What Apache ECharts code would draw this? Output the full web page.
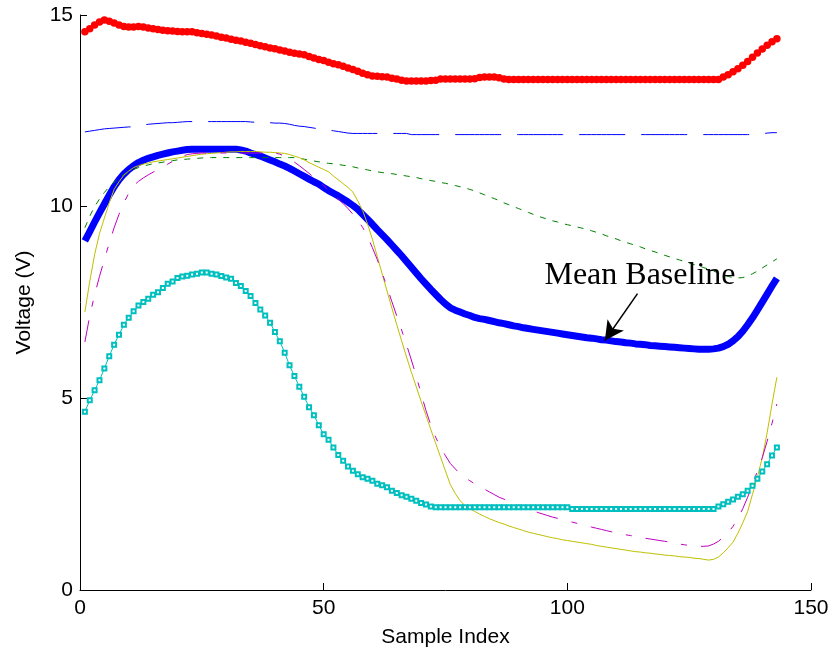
<!DOCTYPE html>
<html>
<head>
<meta charset="utf-8">
<script src="https://cdn.jsdelivr.net/npm/echarts@6/dist/echarts.min.js"></script>
<style>
html,body{margin:0;padding:0;background:#fff;}
#chart{width:832px;height:653px;}
</style>
</head>
<body>
<div id="chart"></div>
<script>
// Sample index runs 1..N for every series
const xTicks = [0, 50, 100, 150];
const yTicks = [0, 5, 10, 15];

const redValues = [
14.56,14.64,14.74,14.82,14.87,14.84,14.79,14.74,14.70,14.69,
14.69,14.70,14.69,14.66,14.64,14.62,14.60,14.59,14.58,14.57,
14.56,14.56,14.56,14.54,14.52,14.50,14.48,14.45,14.42,14.40,
14.37,14.34,14.32,14.29,14.26,14.23,14.20,14.17,14.14,14.12,
14.09,14.06,14.03,14.00,13.98,13.96,13.92,13.88,13.84,13.81,
13.77,13.73,13.70,13.66,13.62,13.58,13.53,13.48,13.44,13.41,
13.40,13.39,13.38,13.35,13.33,13.30,13.28,13.28,13.28,13.28,
13.28,13.29,13.30,13.33,13.33,13.33,13.33,13.33,13.33,13.33,
13.34,13.37,13.38,13.38,13.38,13.36,13.33,13.32,13.32,13.32,
13.32,13.32,13.32,13.32,13.32,13.32,13.32,13.32,13.32,13.32,
13.32,13.32,13.32,13.32,13.32,13.32,13.32,13.32,13.32,13.32,
13.32,13.32,13.32,13.32,13.32,13.32,13.32,13.32,13.32,13.32,
13.32,13.32,13.32,13.32,13.32,13.32,13.32,13.32,13.32,13.32,
13.32,13.38,13.44,13.52,13.60,13.69,13.79,13.90,14.01,14.11,
14.21,14.30,14.38];

const blueDashedValues = [
11.95,11.97,11.99,12.01,12.03,12.04,12.05,12.06,12.07,12.08,
12.08,12.10,12.13,12.15,12.16,12.17,12.18,12.19,12.19,12.20,
12.21,12.22,12.22,12.22,12.22,12.22,12.22,12.22,12.22,12.22,
12.22,12.22,12.22,12.22,12.21,12.20,12.20,12.19,12.19,12.18,
12.18,12.17,12.15,12.12,12.10,12.09,12.07,12.05,12.03,12.01,
12.00,11.98,11.96,11.94,11.92,11.91,11.91,11.91,11.91,11.91,
11.91,11.91,11.91,11.91,11.91,11.91,11.91,11.88,11.88,11.88,
11.88,11.88,11.88,11.88,11.88,11.88,11.88,11.88,11.88,11.88,
11.88,11.88,11.88,11.88,11.88,11.88,11.88,11.88,11.88,11.88,
11.88,11.88,11.88,11.88,11.88,11.88,11.88,11.88,11.88,11.88,
11.88,11.88,11.88,11.88,11.88,11.88,11.88,11.88,11.88,11.88,
11.88,11.88,11.88,11.88,11.88,11.88,11.88,11.88,11.88,11.88,
11.88,11.88,11.88,11.88,11.88,11.88,11.88,11.88,11.88,11.88,
11.88,11.88,11.88,11.88,11.88,11.88,11.88,11.88,11.89,11.90,
11.92,11.93,11.93];

const meanBaselineValues = [
9.11,9.35,9.60,9.84,10.07,10.30,10.52,10.70,10.85,10.97,
11.07,11.15,11.21,11.26,11.30,11.34,11.37,11.40,11.43,11.45,
11.47,11.49,11.50,11.50,11.50,11.50,11.50,11.50,11.50,11.50,
11.50,11.50,11.48,11.45,11.40,11.36,11.32,11.27,11.22,11.17,
11.11,11.06,11.00,10.93,10.86,10.79,10.72,10.65,10.59,10.50,
10.42,10.35,10.28,10.20,10.12,10.03,9.93,9.80,9.67,9.54,
9.40,9.27,9.14,9.00,8.86,8.72,8.57,8.42,8.27,8.12,
7.98,7.84,7.71,7.58,7.46,7.36,7.30,7.25,7.20,7.16,
7.11,7.08,7.06,7.03,7.00,6.97,6.95,6.92,6.89,6.87,
6.84,6.82,6.80,6.78,6.76,6.74,6.72,6.70,6.68,6.66,
6.64,6.62,6.60,6.58,6.57,6.55,6.53,6.52,6.50,6.48,
6.47,6.45,6.44,6.42,6.41,6.40,6.38,6.37,6.36,6.35,
6.34,6.33,6.32,6.31,6.30,6.29,6.28,6.28,6.28,6.29,
6.31,6.35,6.41,6.50,6.61,6.75,6.92,7.10,7.30,7.51,
7.72,7.93,8.13];

const greenValues = [
9.45,9.75,10.00,10.20,10.37,10.52,10.64,10.75,10.84,10.91,
10.97,11.02,11.06,11.09,11.12,11.14,11.16,11.18,11.20,11.22,
11.23,11.24,11.25,11.26,11.27,11.28,11.28,11.28,11.28,11.28,
11.28,11.28,11.28,11.28,11.28,11.28,11.28,11.28,11.28,11.28,
11.28,11.28,11.28,11.28,11.26,11.24,11.21,11.19,11.17,11.15,
11.13,11.12,11.10,11.08,11.06,11.04,11.01,10.98,10.96,10.93,
10.91,10.89,10.87,10.86,10.84,10.82,10.80,10.78,10.76,10.73,
10.71,10.68,10.66,10.63,10.61,10.58,10.55,10.52,10.49,10.45,
10.41,10.36,10.31,10.26,10.21,10.16,10.10,10.05,10.00,9.95,
9.90,9.85,9.80,9.75,9.71,9.67,9.63,9.60,9.56,9.53,
9.50,9.47,9.44,9.41,9.37,9.33,9.29,9.24,9.20,9.16,
9.11,9.07,9.03,8.99,8.95,8.90,8.86,8.82,8.77,8.73,
8.69,8.65,8.61,8.57,8.53,8.49,8.45,8.41,8.37,8.32,
8.27,8.22,8.18,8.15,8.14,8.15,8.19,8.25,8.32,8.40,
8.48,8.56,8.64];

const yellowValues = [
7.25,8.05,8.75,9.30,9.70,10.10,10.45,10.65,10.82,10.93,
11.02,11.07,11.11,11.14,11.17,11.19,11.21,11.23,11.25,11.27,
11.29,11.31,11.33,11.35,11.37,11.38,11.39,11.40,11.41,11.42,
11.43,11.43,11.44,11.44,11.44,11.44,11.43,11.42,11.42,11.41,
11.40,11.39,11.36,11.32,11.28,11.22,11.15,11.09,11.03,10.97,
10.91,10.80,10.70,10.60,10.50,10.38,10.15,9.90,9.55,9.15,
8.70,8.25,7.80,7.35,6.92,6.50,6.08,5.68,5.30,4.92,
4.55,4.18,3.82,3.46,3.10,2.75,2.52,2.33,2.20,2.12,
2.05,1.98,1.92,1.86,1.81,1.76,1.72,1.67,1.63,1.59,
1.55,1.51,1.48,1.45,1.42,1.39,1.36,1.34,1.31,1.29,
1.27,1.25,1.23,1.21,1.19,1.16,1.14,1.12,1.10,1.08,
1.06,1.04,1.02,1.00,0.99,0.97,0.96,0.94,0.93,0.91,
0.90,0.89,0.87,0.86,0.85,0.83,0.82,0.80,0.78,0.80,
0.86,0.97,1.10,1.25,1.48,1.75,2.05,2.50,2.95,3.45,
4.10,4.85,5.55];

const magentaValues = [
6.47,7.15,7.70,8.18,8.62,9.05,9.45,9.80,10.10,10.35,
10.55,10.66,10.75,10.83,10.90,10.97,11.04,11.11,11.18,11.25,
11.31,11.36,11.38,11.39,11.40,11.40,11.40,11.40,11.40,11.40,
11.40,11.40,11.40,11.40,11.40,11.40,11.40,11.40,11.40,11.40,
11.37,11.31,11.24,11.16,11.07,10.97,10.87,10.76,10.66,10.55,
10.43,10.32,10.20,10.08,9.95,9.80,9.64,9.46,9.22,8.93,
8.62,8.27,7.90,7.52,7.15,6.78,6.40,6.00,5.58,5.12,
4.68,4.30,3.98,3.72,3.50,3.30,3.16,3.03,2.93,2.85,
2.77,2.70,2.63,2.56,2.49,2.42,2.37,2.32,2.27,2.22,
2.17,2.12,2.07,2.02,1.98,1.94,1.90,1.87,1.83,1.80,
1.77,1.74,1.70,1.67,1.64,1.61,1.58,1.55,1.52,1.49,
1.46,1.44,1.42,1.39,1.37,1.35,1.33,1.31,1.29,1.27,
1.25,1.22,1.20,1.18,1.16,1.15,1.14,1.14,1.15,1.20,
1.27,1.38,1.50,1.66,1.87,2.12,2.42,2.75,3.10,3.45,
3.88,4.35,4.85];

const cyanValues = [
4.65,4.95,5.21,5.47,5.78,6.10,6.40,6.66,6.92,7.10,
7.27,7.42,7.51,7.60,7.70,7.77,7.88,7.99,8.05,8.14,
8.18,8.20,8.23,8.25,8.28,8.28,8.25,8.23,8.19,8.15,
8.12,8.01,7.93,7.80,7.67,7.49,7.32,7.16,6.97,6.73,
6.49,6.19,5.86,5.58,5.30,5.04,4.77,4.56,4.30,4.06,
3.92,3.72,3.52,3.37,3.22,3.11,3.02,2.94,2.90,2.85,
2.77,2.73,2.68,2.59,2.53,2.47,2.43,2.38,2.33,2.27,
2.23,2.18,2.16,2.16,2.16,2.16,2.16,2.16,2.16,2.16,
2.16,2.16,2.16,2.16,2.16,2.16,2.16,2.16,2.16,2.16,
2.16,2.16,2.16,2.16,2.16,2.16,2.16,2.16,2.16,2.16,
2.11,2.11,2.11,2.11,2.11,2.11,2.11,2.11,2.11,2.11,
2.11,2.11,2.11,2.11,2.11,2.11,2.11,2.11,2.11,2.11,
2.11,2.11,2.11,2.11,2.11,2.11,2.11,2.11,2.11,2.11,
2.18,2.24,2.30,2.36,2.43,2.50,2.59,2.72,2.90,3.09,
3.28,3.51,3.72];

const annotationText = 'Mean Baseline';
const xAxisTitle = 'Sample Index';
const yAxisTitle = 'Voltage (V)';

function pairs(vals) { return vals.map((v, i) => [i + 1, v]); }

const sansFont = '"Liberation Sans", Arial, sans-serif';
const chart = echarts.init(document.getElementById('chart'), null, {renderer: 'canvas'});

const axisCommon = {
  axisLine: {show: true, onZero: false, lineStyle: {color: '#000', width: 1}},
  axisTick: {show: true, inside: true, length: 7, lineStyle: {color: '#000'}},
  splitLine: {show: false},
  nameTextStyle: {fontFamily: sansFont, fontSize: 21, color: '#000'}
};

chart.setOption({
  animation: false,
  backgroundColor: '#fff',
  grid: {left: 80, right: 21, top: 15, bottom: 61},
  xAxis: Object.assign({}, axisCommon, {
    type: 'value', min: xTicks[0], max: xTicks[xTicks.length - 1], interval: 50,
    name: xAxisTitle, nameLocation: 'middle', nameGap: 37,
    axisLabel: {fontFamily: sansFont, fontSize: 21, color: '#000', margin: 8}
  }),
  yAxis: Object.assign({}, axisCommon, {
    type: 'value', min: yTicks[0], max: yTicks[yTicks.length - 1], interval: 5,
    name: yAxisTitle, nameLocation: 'middle', nameGap: 45,
    axisLabel: {fontFamily: sansFont, fontSize: 21, color: '#000', margin: 7}
  }),
  series: [
    {type: 'line', data: pairs(redValues), symbol: 'circle', symbolSize: 7.5, showSymbol: true,
     lineStyle: {color: '#ff0000', width: 2}, itemStyle: {color: '#ff0000'}, z: 2},
    {type: 'line', data: pairs(blueDashedValues), symbol: 'none',
     lineStyle: {color: '#0000ff', width: 1, type: [46, 16]}, z: 2},
    {type: 'line', data: pairs(meanBaselineValues), symbol: 'none',
     lineStyle: {color: '#0000ff', width: 7, cap: 'butt', join: 'round'}, z: 2,
     markLine: {
       silent: true, symbol: ['none', 'arrow'], symbolSize: [15, 19],
       label: {show: false},
       lineStyle: {color: '#000', width: 1.5, type: 'solid'},
       data: [[{coord: [114.4, 7.73]}, {coord: [107.7, 6.51]}]]
     },
     markPoint: {
       silent: true, symbol: 'rect', symbolSize: 0,
       label: {show: true, position: 'right', distance: 0, formatter: annotationText,
               fontFamily: '"Liberation Serif", "Times New Roman", serif', fontSize: 32, color: '#000'},
       data: [{coord: [95.3, 8.2]}]
     }},
    {type: 'line', data: pairs(greenValues), symbol: 'none',
     lineStyle: {color: '#008000', width: 1, type: [6, 7]}, z: 3},
    {type: 'line', data: pairs(yellowValues), symbol: 'none',
     lineStyle: {color: '#bfbf00', width: 1}, z: 3},
    {type: 'line', data: pairs(magentaValues), symbol: 'none',
     lineStyle: {color: '#bf00bf', width: 1, type: [22, 14, 6, 14]}, z: 3},
    {type: 'line', data: pairs(cyanValues), symbol: 'emptyRect', symbolSize: 4, showSymbol: true,
     lineStyle: {color: '#00bfbf', width: 1}, itemStyle: {color: '#00bfbf', borderWidth: 1}, z: 3}
  ]
});
</script>
</body>
</html>
